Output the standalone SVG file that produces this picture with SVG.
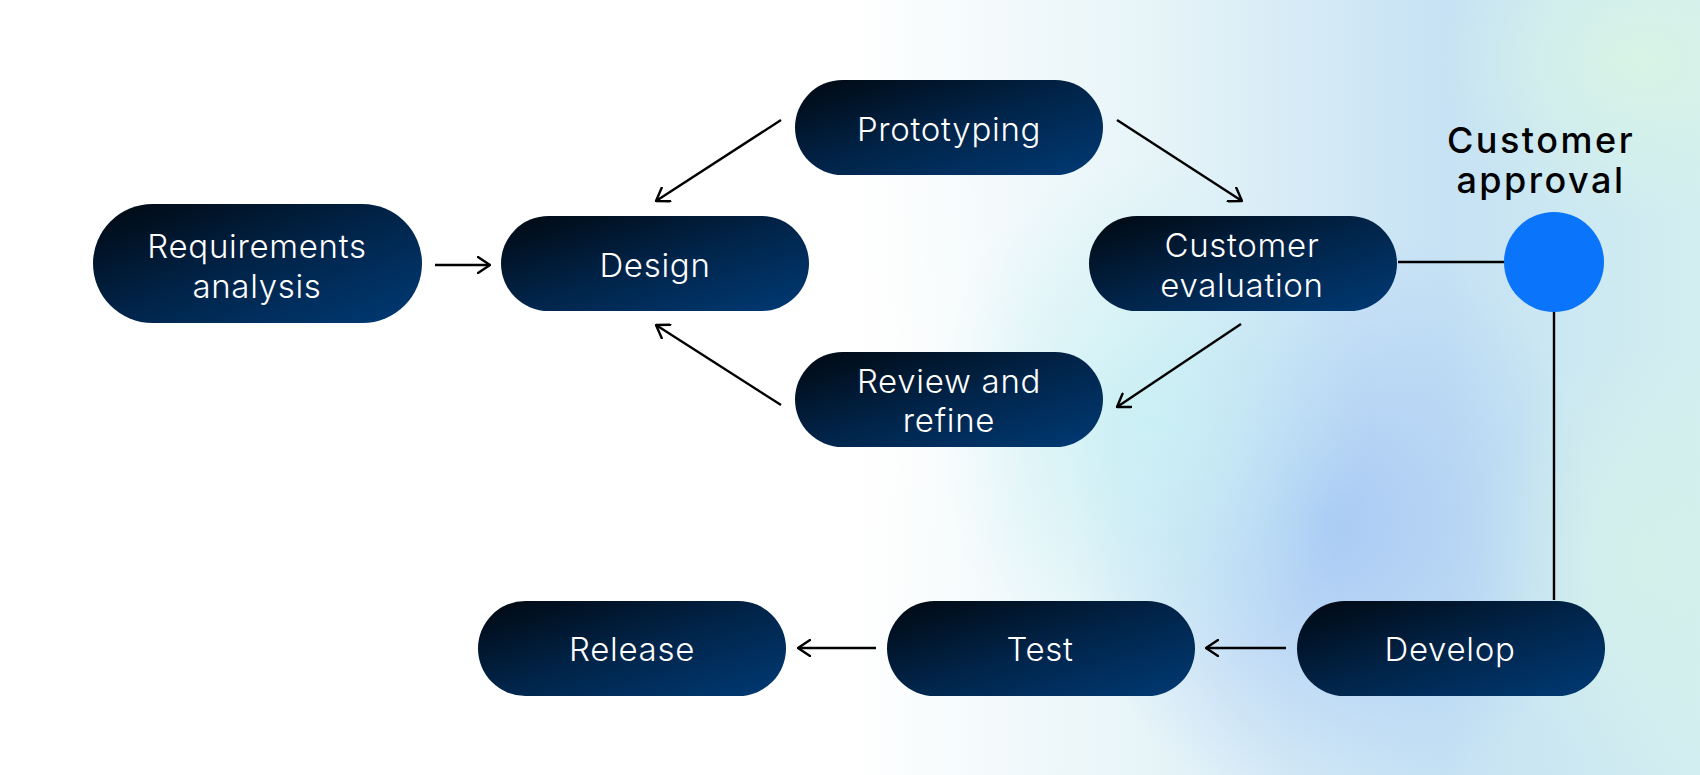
<svg xmlns="http://www.w3.org/2000/svg" width="1700" height="775" viewBox="0 0 1700 775">
<defs>
<linearGradient id="nodeFill" x1="0" y1="0" x2="1" y2="1">
<stop offset="0" stop-color="#010810"/>
<stop offset="0.5" stop-color="#012449"/>
<stop offset="1" stop-color="#003a75"/>
</linearGradient>
<linearGradient id="bgBase" x1="0" y1="0" x2="1" y2="0">
<stop offset="0" stop-color="#ffffff"/>
<stop offset="0.5" stop-color="#ffffff"/>
<stop offset="0.68" stop-color="#e6f4f8"/>
<stop offset="0.85" stop-color="#c6e2f4"/>
<stop offset="1" stop-color="#d2eef0"/>
</linearGradient>
<radialGradient id="blobBlue" cx="0.5" cy="0.5" r="0.5">
<stop offset="0" stop-color="#a6c8f4" stop-opacity="0.95"/>
<stop offset="1" stop-color="#a6c8f4" stop-opacity="0"/>
</radialGradient>
<radialGradient id="blobCyan" cx="0.5" cy="0.5" r="0.5">
<stop offset="0" stop-color="#c8f0f4" stop-opacity="0.9"/>
<stop offset="1" stop-color="#c8f0f4" stop-opacity="0"/>
</radialGradient>
<radialGradient id="blobMint" cx="0.5" cy="0.5" r="0.5">
<stop offset="0" stop-color="#d8f4e6" stop-opacity="1"/>
<stop offset="1" stop-color="#d8f4e6" stop-opacity="0"/>
</radialGradient>
<radialGradient id="blobWhite" cx="0.5" cy="0.5" r="0.5">
<stop offset="0" stop-color="#ffffff" stop-opacity="1"/>
<stop offset="1" stop-color="#ffffff" stop-opacity="0"/>
</radialGradient>
<marker id="arrow" viewBox="0 0 14 18" refX="13" refY="9" markerWidth="14" markerHeight="18" markerUnits="userSpaceOnUse" orient="auto">
<path d="M1,1 L13,9 L1,17" fill="none" stroke="#000" stroke-width="2.4" stroke-linecap="round" stroke-linejoin="round"/>
</marker>
<style>
.node rect { fill: url(#nodeFill); }
.node text { fill: #ffffff; font-family: Inter, "Liberation Sans", sans-serif; font-size: 33px; font-weight: 300; letter-spacing: 0.7px; text-anchor: middle; }
.conn line { stroke: #000; stroke-width: 2.4; fill: none; }
.label { fill: #000; font-family: Inter, "Liberation Sans", sans-serif; font-size: 36px; font-weight: 500; letter-spacing: 2.5px; text-anchor: middle; }
</style>
</defs>
<g id="background">
<rect x="0" y="0" width="1700" height="775" fill="url(#bgBase)"/>
<ellipse cx="1330" cy="520" rx="260" ry="300" fill="url(#blobBlue)"/>
<ellipse cx="1150" cy="420" rx="220" ry="260" fill="url(#blobCyan)"/>
<ellipse cx="1640" cy="60" rx="200" ry="160" fill="url(#blobMint)"/>
<ellipse cx="1640" cy="560" rx="160" ry="220" fill="url(#blobMint)" opacity="0.6"/>
<ellipse cx="700" cy="400" rx="330" ry="450" fill="url(#blobWhite)"/>
</g>
<g id="connectors" class="conn">
<line x1="435" y1="265" x2="490" y2="265" marker-end="url(#arrow)"/>
<line x1="781" y1="120" x2="656" y2="201" marker-end="url(#arrow)"/>
<line x1="1117" y1="120" x2="1242" y2="201" marker-end="url(#arrow)"/>
<line x1="1241" y1="324" x2="1117" y2="407" marker-end="url(#arrow)"/>
<line x1="781" y1="405" x2="656" y2="325" marker-end="url(#arrow)"/>
<line x1="1398" y1="262" x2="1506" y2="262"/>
<line x1="1554" y1="310" x2="1554" y2="600"/>
<line x1="1286" y1="648" x2="1206" y2="648" marker-end="url(#arrow)"/>
<line x1="876" y1="648" x2="798" y2="648" marker-end="url(#arrow)"/>
</g>
<g id="node-requirements" class="node">
<rect x="93" y="204" width="329" height="119" rx="59.5"/>
<text x="257" y="258">Requirements</text>
<text x="257" y="298">analysis</text>
</g>
<g id="node-design" class="node">
<rect x="501" y="216" width="308" height="95" rx="47.5"/>
<text x="655" y="277">Design</text>
</g>
<g id="node-prototyping" class="node">
<rect x="795" y="80" width="308" height="95" rx="47.5"/>
<text x="949" y="141">Prototyping</text>
</g>
<g id="node-customer-evaluation" class="node">
<rect x="1089" y="216" width="308" height="95" rx="47.5"/>
<text x="1242" y="257">Customer</text>
<text x="1242" y="297">evaluation</text>
</g>
<g id="node-review" class="node">
<rect x="795" y="352" width="308" height="95" rx="47.5"/>
<text x="949" y="393">Review and</text>
<text x="949" y="432">refine</text>
</g>
<g id="node-release" class="node">
<rect x="478" y="601" width="308" height="95" rx="47.5"/>
<text x="632" y="661">Release</text>
</g>
<g id="node-test" class="node">
<rect x="887" y="601" width="308" height="95" rx="47.5"/>
<text x="1040" y="661">Test</text>
</g>
<g id="node-develop" class="node">
<rect x="1297" y="601" width="308" height="95" rx="47.5"/>
<text x="1450" y="661">Develop</text>
</g>
<g id="node-customer-approval">
<circle cx="1554" cy="262" r="50" fill="#0a74fa"/>
<text class="label" x="1541" y="153">Customer</text>
<text class="label" x="1541" y="193">approval</text>
</g>
</svg>
